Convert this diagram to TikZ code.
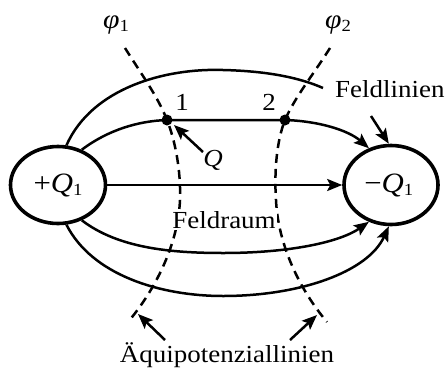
\documentclass[tikz,border=0pt]{standalone}
\usepackage{fontspec}
\setmainfont{Liberation Serif}
\usetikzlibrary{arrows.meta,shapes.geometric}
\newcommand{\hx}[1]{\scalebox{1.1}[1]{#1}}
\newcommand{\sbs}[1]{\raisebox{-3pt}{\fontsize{17}{17}\selectfont #1}}
\begin{document}
\begin{tikzpicture}[x=1pt,y=-1pt,
  charge/.style={draw, ellipse, line width=3.6pt, inner sep=0pt, font=\fontsize{28}{32}\selectfont},
  fline/.style={line width=2.5pt},
  arr/.style={line width=2.5pt, -{Stealth[length=15pt,width=12pt,inset=3pt]}},
  equi/.style={line width=2.5pt, dash pattern=on 9pt off 6pt},
  dot/.style={circle, fill=black, minimum size=11pt, inner sep=0pt},
  lbl/.style={font=\fontsize{24.5}{28}\selectfont, inner sep=1pt}]
\useasboundingbox (0,0) rectangle (446,372);

% charges
\node[charge, minimum width=95pt, minimum height=77pt] (L) at (58,185) {\hx{+\textit{Q}\sbs{1}}};
\node[charge, minimum width=94pt, minimum height=79pt] (R) at (391,185) {\hx{\kern-4pt−\textit{Q}\sbs{1}}};

% points
\node[dot] (P1) at (167,120) {};
\node[dot] (P2) at (285,120) {};

% equipotential lines
\coordinate (f1a) at (125,48);
\coordinate (f1b) at (128,322);
\coordinate (f2a) at (330,48);
\coordinate (f2b) at (327,322);
\draw[equi] (f1a) .. controls (142,75) and (158,97) .. (P1.center)
  .. controls (175,140) and (181,170) .. (180,200)
  .. controls (178,245) and (155,290) .. (f1b);
\draw[equi] (f2a) .. controls (313,75) and (295,97) .. (P2.center)
  .. controls (277,140) and (274,170) .. (276,200)
  .. controls (278,245) and (300,290) .. (f2b);

% field lines
\coordinate (topend) at (323,88);
\draw[fline] (L.78) .. controls (92,88) and (165,68) .. (223,70)
  .. controls (265,71) and (298,77) .. (topend);
\draw[arr] (L.56) .. controls (108,130) and (138,121) .. (P1.center)
  -- (P2.center) .. controls (318,121) and (348,130) .. (R.121);
\draw[arr] (L.east) -- (R.west);
\draw[arr] (L.-56) .. controls (118,248) and (170,253) .. (223,253)
  .. controls (290,253) and (340,242) .. (R.-121);
\draw[arr] (L.-78) .. controls (92,275) and (160,296) .. (223,296)
  .. controls (300,296) and (368,272) .. (R.-93);

% labels
\node[lbl, fill=white] (FR) at (224,220) {\hx{Feldraum}};
\node[lbl] (phi1) at (116,25) {\hx{\fontsize{27}{30}\selectfont\textit{φ}\sbs{1}}};
\node[lbl] (phi2) at (338,25) {\hx{\fontsize{27}{30}\selectfont\textit{φ}\sbs{2}}};
\node[lbl] (n1) at (182,102) {\hx{1}};
\node[lbl] (n2) at (269,102) {\hx{2}};
\node[lbl] (Q) at (213,160) {\hx{\textit{Q}}};
\node[lbl, anchor=base west] (FL) at (334,97) {\hx{Feldlinien}};
\node[lbl, anchor=base] (AQ) at (227,362) {\hx{Äquipotenziallinien}};

% pointer arrows
\coordinate (fa) at (371,116);
\draw[arr] (fa) -- (R.93);
\coordinate (qa) at (203,152);
\coordinate (qb) at (174,125);
\draw[arr] (qa) -- (qb);
\coordinate (t1) at (165,340);
\coordinate (h1) at (138,314);
\coordinate (t2) at (290,340);
\coordinate (h2) at (317,315);
\draw[arr] (t1) -- (h1);
\draw[arr] (t2) -- (h2);
\end{tikzpicture}
\end{document}
